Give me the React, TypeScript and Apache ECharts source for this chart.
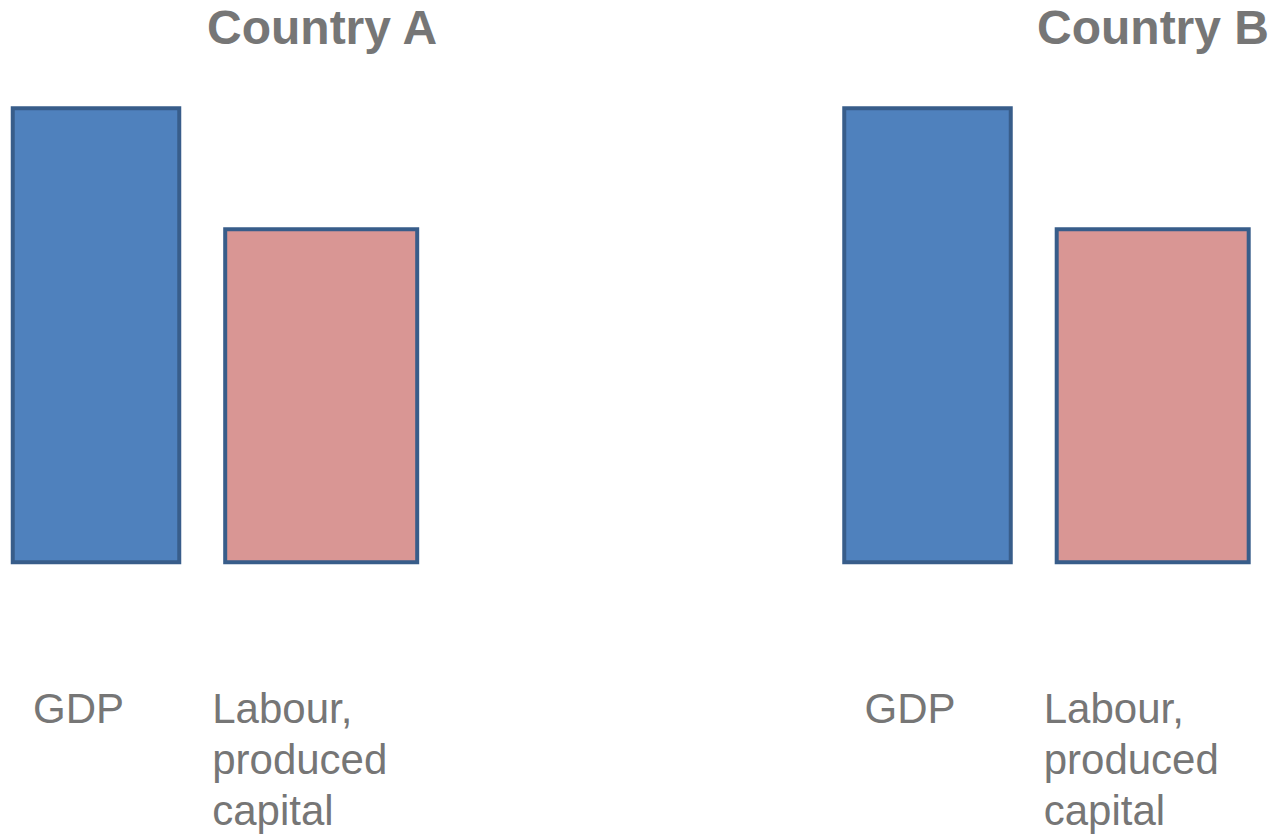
import React, { useEffect, useRef } from 'react';
import * as echarts from 'echarts';

const countries = ['Country A', 'Country B'];
const categories = ['GDP', 'Labour,\nproduced\ncapital'];
const gdpValues = [100, 100];
const capitalValues = [73.6, 73.6];

const FONT = '"Liberation Sans", Arial, Helvetica, sans-serif';
const TEXT_COLOR = '#767676';

export default function App() {
  const ref = useRef<HTMLDivElement>(null);

  useEffect(() => {
    const chart = echarts.init(ref.current!, null, { renderer: 'svg' });

    const panelLeft = [96, 927.5];
    const panelWidth = 225.2;
    const titleLeft = [207, 1037];
    const labelBoxWidth = [126, 218];

    const grids = countries.map((_, i) => ({
      left: panelLeft[i],
      width: panelWidth,
      top: 106.3,
      bottom: 272.7,
      containLabel: false,
    }));

    const rich: any = {};
    labelBoxWidth.forEach((w, idx) => {
      rich['c' + idx] = {
        width: w,
        align: 'left',
        fontSize: 42,
        lineHeight: 51,
        color: TEXT_COLOR,
        fontFamily: FONT,
      };
    });

    const xAxes: any[] = [];
    countries.forEach((_, i) => {
      for (let k = 0; k < 2; k++) {
        xAxes.push({
          type: 'category',
          gridIndex: i,
          data: categories,
          boundaryGap: false,
          axisLine: { show: false },
          axisTick: { show: false },
          splitLine: { show: false },
          axisLabel:
            k === 0
              ? {
                  show: true,
                  interval: 0,
                  margin: 119,
                  fontSize: 42,
                  lineHeight: 51,
                  color: TEXT_COLOR,
                  fontFamily: FONT,
                  formatter: (value: string, idx: number) =>
                    value
                      .split('\n')
                      .map((line) => `{c${idx}|${line}}`)
                      .join('\n'),
                  rich,
                }
              : { show: false },
        });
      }
    });

    const yAxes = countries.map((_, i) => ({
      type: 'value',
      gridIndex: i,
      min: 0,
      max: 100,
      show: false,
      splitLine: { show: false },
    }));

    const series: any[] = [];
    countries.forEach((c, i) => {
      series.push({
        name: c + ' GDP',
        type: 'bar',
        xAxisIndex: 2 * i,
        yAxisIndex: i,
        data: [gdpValues[i], '-'],
        barWidth: 170.5,
        clip: false,
        itemStyle: { color: '#4F81BD', borderColor: '#385D8A', borderWidth: 4 },
      });
      series.push({
        name: c + ' Labour, produced capital',
        type: 'bar',
        xAxisIndex: 2 * i + 1,
        yAxisIndex: i,
        data: ['-', capitalValues[i]],
        barWidth: 196,
        clip: false,
        itemStyle: { color: '#D99694', borderColor: '#385D8A', borderWidth: 4 },
      });
    });

    chart.setOption({
      animation: false,
      backgroundColor: '#ffffff',
      title: countries.map((c, i) => ({
        text: c,
        left: titleLeft[i],
        top: 3,
        padding: 0,
        textStyle: {
          fontSize: 48,
          lineHeight: 48,
          fontWeight: 'bold',
          color: TEXT_COLOR,
          fontFamily: FONT,
        },
      })),
      grid: grids,
      xAxis: xAxes,
      yAxis: yAxes,
      series,
    });

    return () => chart.dispose();
  }, []);

  return (
    <div
      ref={ref}
      style={{ position: 'absolute', left: 0, top: 0, width: 1276, height: 837 }}
    />
  );
}
